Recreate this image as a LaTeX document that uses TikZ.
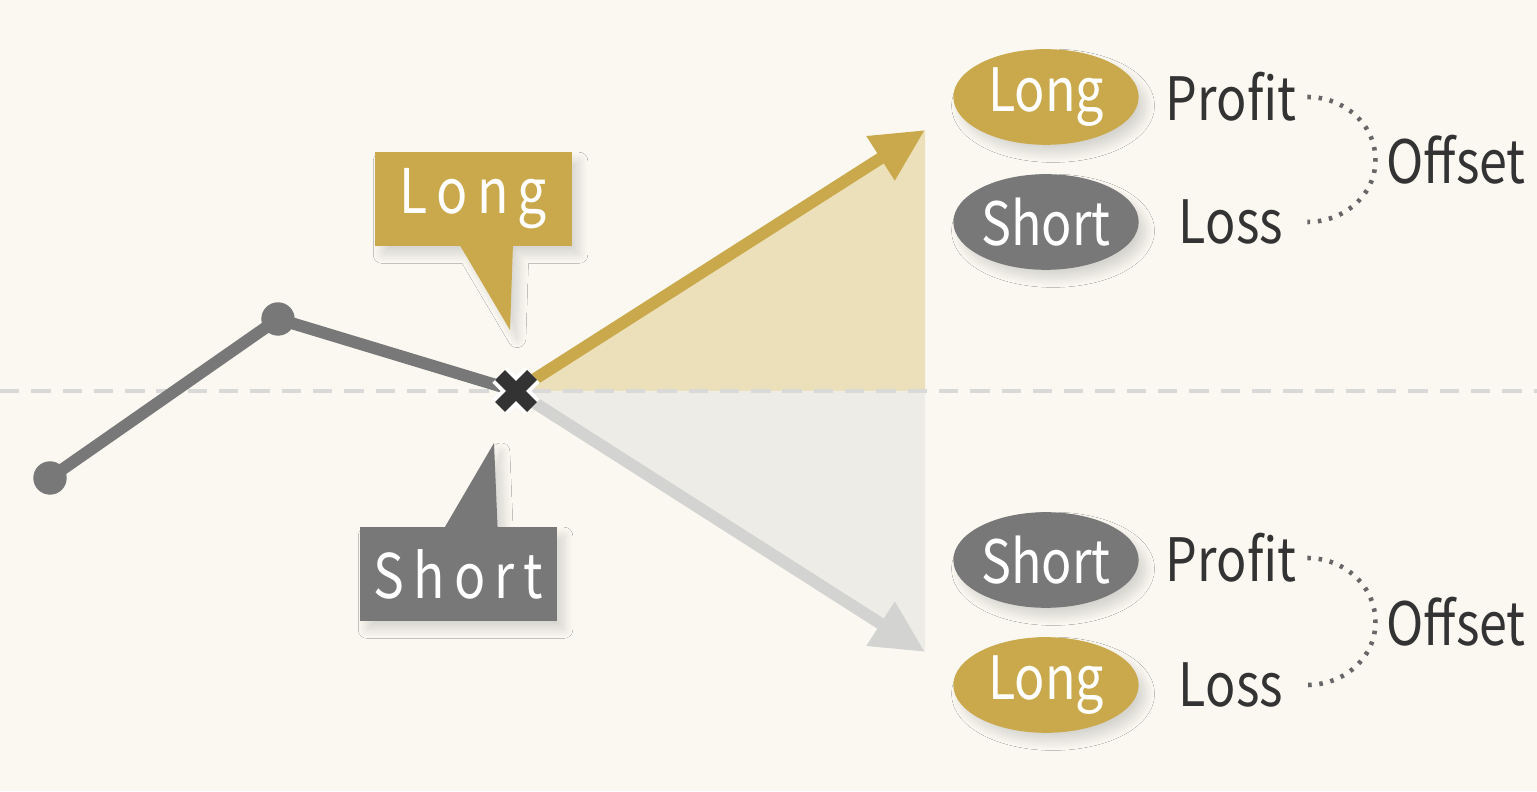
\documentclass[tikz,border=0pt]{standalone}
\usepackage{fontspec}
\setmainfont[FakeStretch=0.84]{Noto Sans CJK JP}
\newfontfamily\spacedfont[FakeStretch=0.84, LetterSpace=15]{Noto Sans CJK JP}
\usepackage{tikz}
\usetikzlibrary{arrows.meta, positioning, calc, shapes.geometric, shapes.callouts, shadows.blur}
\usepackage{xcolor}
\definecolor{bgcream}{HTML}{FAF8F1}
\definecolor{gold}{HTML}{C9A94B}
\definecolor{goldfill}{HTML}{ECE0BA}
\definecolor{midgray}{HTML}{787878}
\definecolor{lightgray}{HTML}{D3D3D1}
\definecolor{grayfill}{HTML}{EDECE6}
\definecolor{darktext}{HTML}{333333}
\definecolor{dashgray}{HTML}{D9D9D7}

\begin{document}
\begin{tikzpicture}[
  x=0.01cm, y=0.01cm,
  font=\fontsize{17}{19}\selectfont,
  >=Stealth,
  softshadow/.style={
    blur shadow={shadow blur steps=14, shadow blur radius=2.5pt, shadow xshift=2pt, shadow yshift=-2.5pt, shadow opacity=14}
  },
  pricepath/.style={line width=3.4pt, midgray, line join=round},
  dot/.style={circle, fill=midgray, inner sep=0pt, minimum size=9.5pt},
  uparrow/.style={line width=3.4pt, gold, -{Triangle[length=15pt, width=14pt]}},
  downarrow/.style={line width=3.4pt, lightgray, -{Triangle[length=15pt, width=14pt]}},
  callbox/.style={
    rectangle callout, minimum width=56pt, minimum height=26.6pt,
    callout pointer width=15pt, text=white, softshadow,
    font=\spacedfont\fontsize{17.5}{19}\selectfont
  },
  goldpill/.style={
    ellipse, fill=gold, text=white, inner sep=0pt,
    minimum width=52.7pt, minimum height=27.2pt, softshadow
  },
  graypill/.style={
    ellipse, fill=midgray, text=white, inner sep=0pt,
    minimum width=52.7pt, minimum height=27.2pt, softshadow
  },
  result/.style={text=darktext, inner sep=3pt},
  bracket/.style={line width=1.3pt, darktext!75, dash pattern=on 1pt off 2.2pt}
]

% Background
\fill[bgcream] (0,0) rectangle (1537,791);
\useasboundingbox (0,0) rectangle (1537,791);

% Price points
\coordinate (p0) at (50,313);
\coordinate (p1) at (278,472);
\coordinate (cross) at (516,400);
\coordinate (uptip) at (925,661);
\coordinate (dntip) at (925,139);

% Shaded wedges
\fill[goldfill] (cross) -- (uptip) -- (uptip |- cross) -- cycle;
\fill[grayfill] (cross) -- (dntip) -- (dntip |- cross) -- cycle;

% Dashed level
\draw[dashgray, line width=1.2pt, dash pattern=on 5.5pt off 3.4pt] (0,400) -- (1537,400);

% Price line
\draw[pricepath] (p0) -- (p1) -- (cross);
\node[dot] at (p0) {};
\node[dot] at (p1) {};

% Outcome arrows
\draw[downarrow] (cross) -- (dntip);
\draw[uparrow] (cross) -- (uptip);

% Cross marker
\draw[white, line width=6.2pt] (cross) +(-16,-16) -- +(16,16) +(-16,16) -- +(16,-16);
\draw[darktext, line width=4pt] (cross) +(-16,-16) -- +(16,16) +(-16,16) -- +(16,-16);

% Callouts
\node[callbox, fill=gold, callout absolute pointer={(510,461)}] (longcall) at (473.5,592) {Long};
\node[callbox, fill=midgray, callout absolute pointer={(494,348)}] (shortcall) at (458.5,217) {Short};

% Upper outcome
\node[goldpill] (uplong) at (1046,694) {Long};
\node[graypill] (upshort) at (1046,569) {Short};
\node[result] (upprofit) at (1231,694) {Profit};
\node[result] (uploss) at (1231,569) {Loss};
\node[result, anchor=east] (upoffset) at (1537,631) {Offset};
\draw[bracket] (upprofit.east) to[out=0, in=90] (upoffset.west) to[out=-90, in=0] (uploss.east -| upprofit.east);

% Lower outcome
\node[graypill] (dnshort) at (1046,231) {Short};
\node[goldpill] (dnlong) at (1046,106) {Long};
\node[result] (dnprofit) at (1231,233) {Profit};
\node[result] (dnloss) at (1231,106) {Loss};
\node[result, anchor=east] (dnoffset) at (1537,169) {Offset};
\draw[bracket] (dnprofit.east) to[out=0, in=90] (dnoffset.west) to[out=-90, in=0] (dnloss.east -| dnprofit.east);

\end{tikzpicture}
\end{document}
